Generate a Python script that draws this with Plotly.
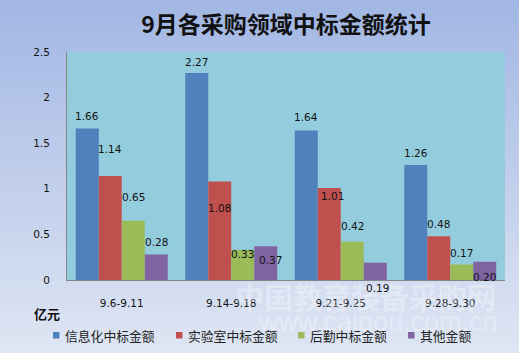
import plotly.graph_objects as go

# ---------------- data ----------------
categories = ["9.6-9.11", "9.14-9.18", "9.21-9.25", "9.28-9.30"]
series_names = ["信息化中标金额", "实验室中标金额", "后勤中标金额", "其他金额"]
info_vals = [1.66, 2.27, 1.64, 1.26]
lab_vals = [1.14, 1.08, 1.01, 0.48]
logi_vals = [0.65, 0.33, 0.42, 0.17]
other_vals = [0.28, 0.37, 0.19, 0.20]
y_ticks = [0, 0.5, 1, 1.5, 2, 2.5]
y_ticktext = ["0", "0.5", "1", "1.5", "2", "2.5"]
title_text = "9月各采购领域中标金额统计"
unit_text = "亿元"
watermark_cn = "中国教育装备采购网"
watermark_url = "www.caigou.com.cn"

# ---------------- style ----------------
colors = ["#4f81bd", "#c0504d", "#9bbb59", "#8064a2"]
# label pixel offsets (style only), per series per group
label_dy = [[13, 11, 13, 12], [27, -26, -8, 12], [24, -4, 16, 12], [12, -14, -25, -15]]
label_dx = [[0, 0, 0, 0], [0, 0, 3, 0], [0, 0, 0, 0], [0, 5, 2, 0]]
legend_x_px = [53, 176, 298, 408]   # left edge of legend squares
legend_y_px = 335
bargap = 0.16
num_font = "DejaVu Sans"
cjk_font = "Noto Sans CJK SC"

W, H = 519, 353
ml, mr, mt, mb = 67, 14, 52, 73
pw, ph = W - ml - mr, H - mt - mb

all_vals = [info_vals, lab_vals, logi_vals, other_vals]


def py2p(py):
    return (H - mb - py) / ph


def px2p(px):
    return (px - ml) / pw


fig = go.Figure()
for name, vals, c in zip(series_names, all_vals, colors):
    fig.add_trace(go.Bar(x=categories, y=vals, name=name, showlegend=False,
                         marker=dict(color=c, line=dict(width=0))))

# background gradient bands
shapes = []
top = (0xa2, 0xb7, 0xe4)
bot = (0xde, 0xe5, 0xf3)
n = 40
for i in range(n):
    t = i / (n - 1)
    col = tuple(round(top[k] + (bot[k] - top[k]) * t) for k in range(3))
    y0 = i * H / n
    y1 = (i + 1) * H / n + 1
    shapes.append(dict(type="rect", xref="paper", yref="paper", layer="below",
                       x0=px2p(0), x1=px2p(W), y0=py2p(y1), y1=py2p(y0),
                       fillcolor="rgb(%d,%d,%d)" % col, line=dict(width=0)))
shapes.append(dict(type="rect", xref="paper", yref="paper", layer="below",
                   x0=0, x1=1, y0=0, y1=1, fillcolor="#93cddd", line=dict(width=0)))

annotations = []
# watermark (drawn first, beneath other texts)
annotations.append(dict(x=px2p(365), y=py2p(296), xref="paper", yref="paper",
                        xanchor="center", yanchor="middle",
                        text="<b>" + watermark_cn + "</b>", showarrow=False,
                        font=dict(family=cjk_font, size=29, color="rgba(255,255,255,0.33)")))
annotations.append(dict(x=px2p(378), y=py2p(322), xref="paper", yref="paper",
                        xanchor="center", yanchor="middle",
                        text=watermark_url, showarrow=False,
                        font=dict(family="Liberation Sans", size=27, color="rgba(255,255,255,0.33)")))

bw = (1 - bargap) / 4
for s, vals in enumerate(all_vals):
    for g, v in enumerate(vals):
        annotations.append(dict(x=g + (s - 1.5) * bw, y=v, xref="x", yref="y",
                                xanchor="center", yanchor="middle",
                                text="%.2f" % v, showarrow=False,
                                xshift=label_dx[s][g], yshift=label_dy[s][g],
                                font=dict(family=num_font, size=10.5, color="#111")))

annotations.append(dict(x=px2p(47), y=py2p(313), xref="paper", yref="paper",
                        xanchor="center", yanchor="middle",
                        text="<b>" + unit_text + "</b>", showarrow=False,
                        font=dict(family=cjk_font, size=13, color="#111")))

# manual legend
for name, c, lx in zip(series_names, colors, legend_x_px):
    shapes.append(dict(type="rect", xref="paper", yref="paper", layer="above",
                       x0=px2p(lx), x1=px2p(lx + 6.5), y0=py2p(legend_y_px + 3.5), y1=py2p(legend_y_px - 3),
                       fillcolor=c, line=dict(width=0)))
    annotations.append(dict(x=px2p(lx + 9.5), y=py2p(legend_y_px), xref="paper", yref="paper",
                            xanchor="left", yanchor="middle", text=name, showarrow=False,
                            font=dict(family=cjk_font, size=12.8, color="#222")))

fig.update_layout(
    width=W, height=H,
    margin=dict(l=ml, r=mr, t=mt, b=mb, pad=0),
    paper_bgcolor="#c0cfec",
    plot_bgcolor="rgba(0,0,0,0)",
    barmode="group", bargap=bargap, bargroupgap=0,
    title=dict(text="<b>" + title_text + "</b>", x=px2p(286), xref="paper",
               y=1 - 25 / H, yanchor="middle", xanchor="center",
               font=dict(family=cjk_font, size=23, color="#111")),
    showlegend=False,
    shapes=shapes,
    annotations=annotations,
    xaxis=dict(showgrid=False, showline=True, linecolor="#868686", linewidth=1,
               ticks="", ticklabelstandoff=13,
               tickfont=dict(family=num_font, size=10.5, color="#111"), zeroline=False),
    yaxis=dict(range=[0, 2.5], tickvals=y_ticks, ticktext=y_ticktext, showgrid=False,
               showline=True, linecolor="#868686", linewidth=1, ticks="", ticklabelstandoff=14,
               tickfont=dict(family=num_font, size=10.5, color="#111"), zeroline=False),
)

fig.write_html("out.html")
